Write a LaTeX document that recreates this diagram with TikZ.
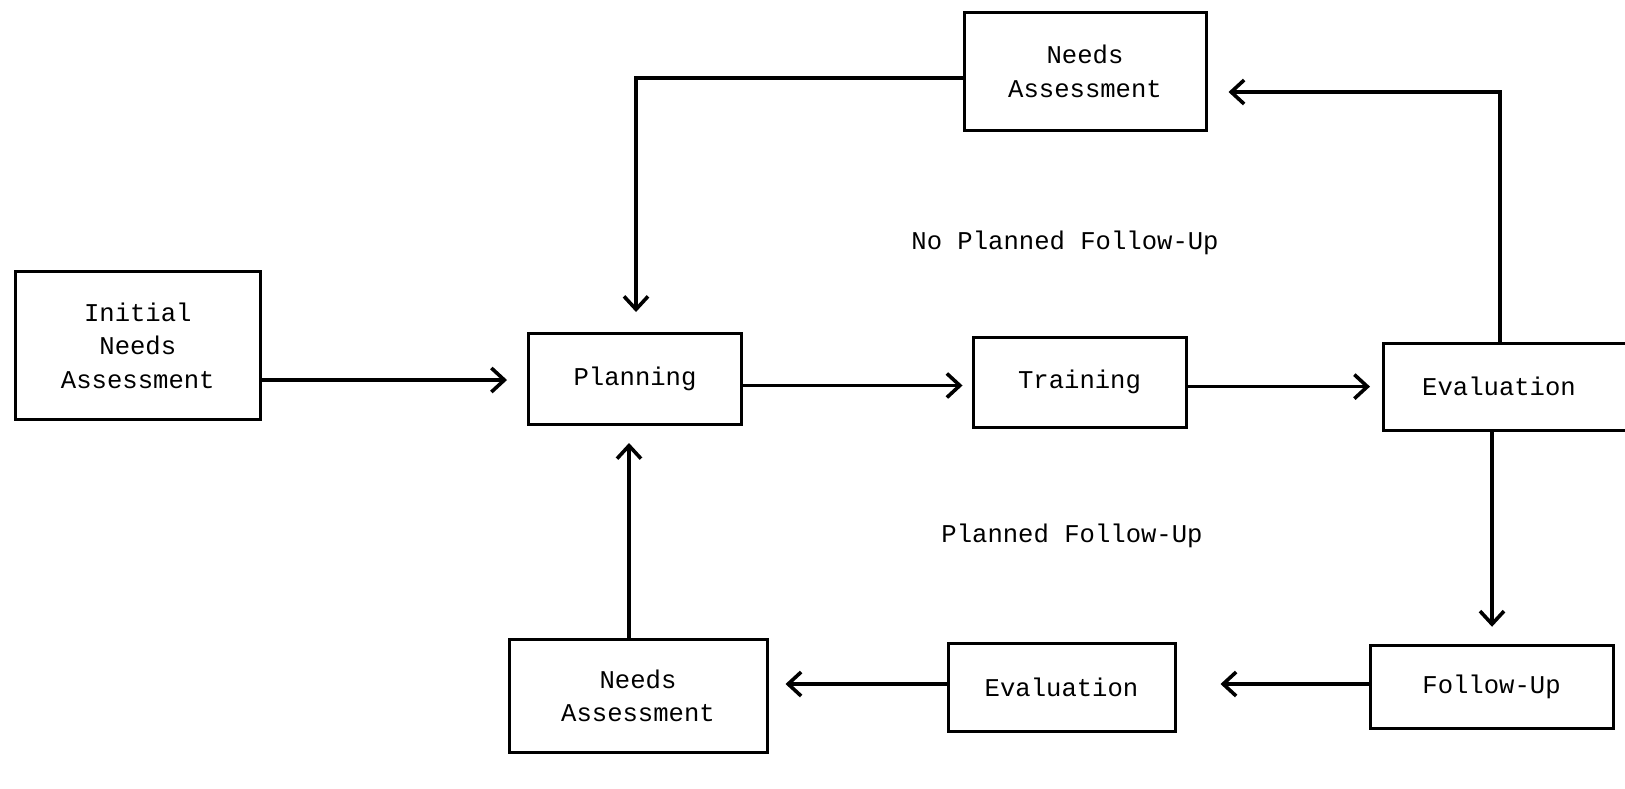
\documentclass[tikz,border=0pt]{standalone}
\usepackage{fontspec}
\setmainfont{Liberation Mono}
\usetikzlibrary{arrows.meta}
\begin{document}
\begin{tikzpicture}[x=0.5pt,y=-0.5pt,
  box/.style={draw, line width=1.5pt, inner sep=0pt, align=center,
    font=\fontsize{12.8}{16.8}\selectfont},
  lbl/.style={inner sep=0pt, font=\fontsize{12.8}{16.8}\selectfont},
  arr/.style={line width=1.8pt, -{Straight Barb[length=6.5pt,width=12pt,line width=1.8pt]}},
  ln/.style={line width=1.8pt}]
\useasboundingbox (0,0) rectangle (1625,788);
\node[box, minimum width=122.25pt, minimum height=74.25pt] (init) at (137.8,345.7) {Initial\\Needs\\Assessment};
\node[box, minimum width=106.5pt, minimum height=45.5pt] (plan) at (635,379) {Planning};
\node[box, minimum width=106.5pt, minimum height=45pt] (train) at (1079.5,382) {Training};
\node[box, minimum width=130pt, minimum height=43.5pt, anchor=west] (eval) at (1381.5,386.5) {};
\node[lbl] (evaltxt) at (1499,386.5) {Evaluation};
\node[box, minimum width=121pt, minimum height=59pt] (topna) at (1085,71.5) {Needs\\Assessment};
\node[box, minimum width=129pt, minimum height=56.25pt] (botna) at (638,696) {Needs\\Assessment};
\node[box, minimum width=113.5pt, minimum height=44pt] (eval2) at (1061.5,687.6) {Evaluation};
\node[box, minimum width=121.5pt, minimum height=41.75pt] (follow) at (1491.5,687) {Follow-Up};
\node[lbl] (nofu) at (1065,242.5) {No Planned Follow-Up};
\node[lbl] (pfu) at (1072,536) {Planned Follow-Up};
\draw[arr, shorten >=10pt] (init.east |- 0,380) -- (plan.west |- 0,380);
\draw[arr, shorten >=4.5pt] (plan.east |- 0,385.5) -- (train.west |- 0,385.5);
\draw[arr, shorten >=5.75pt] (train.east |- 0,386.6) -- (eval.west |- 0,386.6);
\draw[arr, shorten >=10.5pt] (eval.north -| 1500,0) |- (topna.east |- 0,92);
\draw[arr, shorten >=10pt] (topna.west |- 0,77.7) -| (plan.north -| 636,0);
\draw[arr, shorten >=8.5pt] (eval.south -| 1492,0) -- (follow.north -| 1492,0);
\draw[arr, shorten >=22pt] (follow.west |- 0,684) -- (eval2.east |- 0,684);
\draw[arr, shorten >=8.5pt] (eval2.west |- 0,684) -- (botna.east |- 0,684);
\draw[arr, shorten >=8.5pt] (botna.north -| 629,0) -- (plan.south -| 629,0);
\end{tikzpicture}
\end{document}
